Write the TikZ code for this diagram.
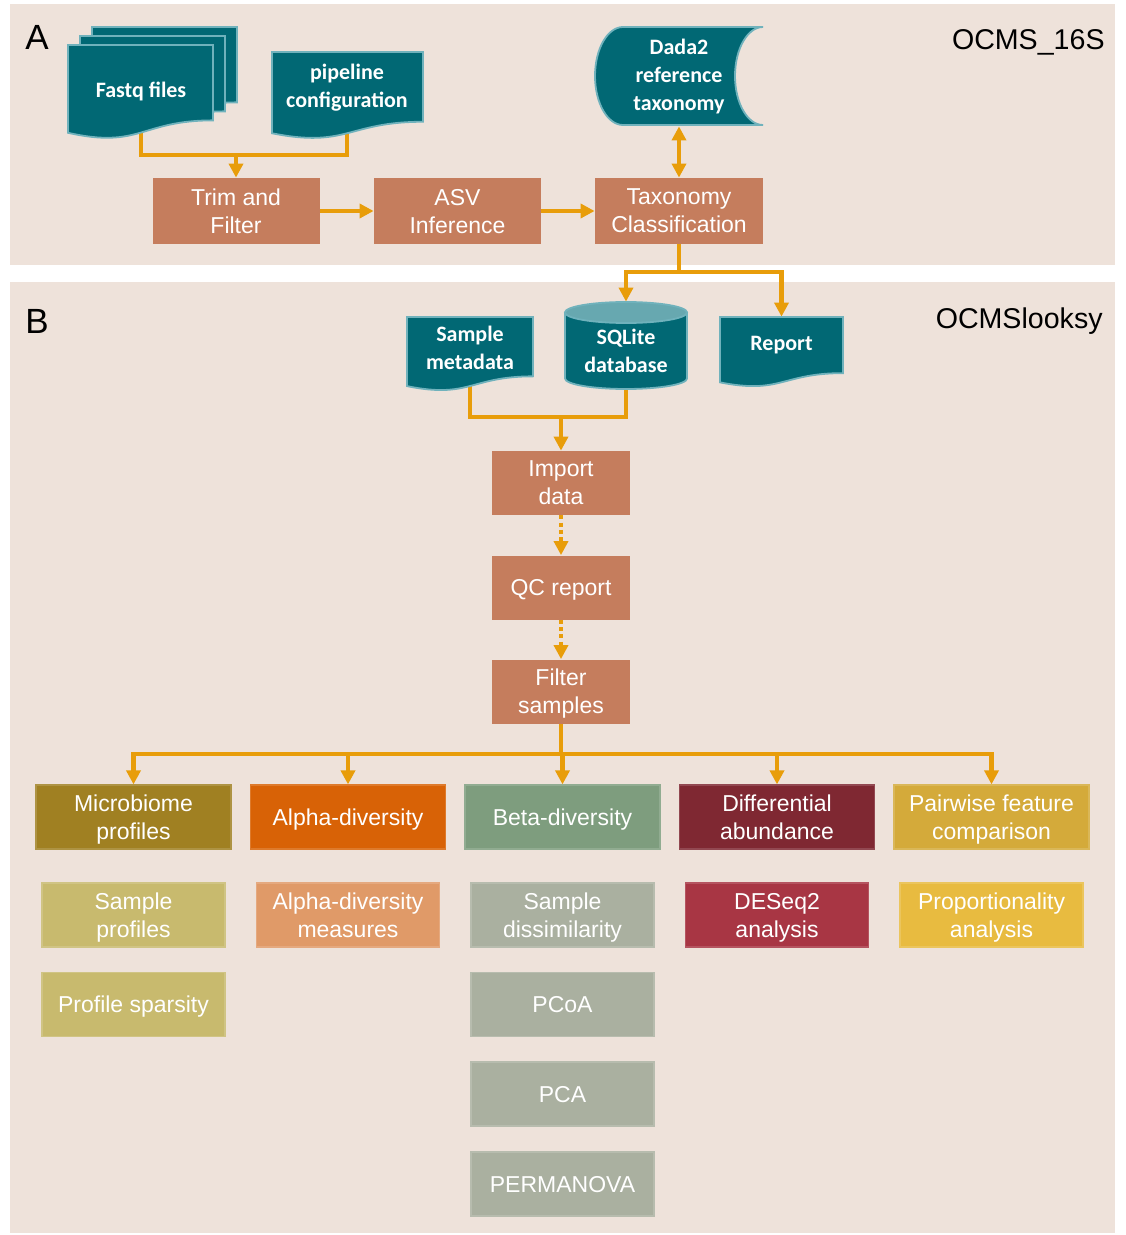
\documentclass[tikz,border=0pt]{standalone}
\usepackage{fontspec}
\setmainfont{Liberation Sans}
\newfontfamily\calfont{Carlito}
\usetikzlibrary{arrows.meta}
\definecolor{panelBg}{RGB}{238,226,218}
\definecolor{tealDark}{RGB}{1,104,116}
\definecolor{tealLine}{RGB}{112,178,188}
\definecolor{tealLight}{RGB}{103,168,176}
\definecolor{procBrown}{RGB}{197,125,93}
\definecolor{wireOrange}{RGB}{232,157,10}
\definecolor{catMicro}{RGB}{160,128,34}
\definecolor{catAlpha}{RGB}{216,98,6}
\definecolor{catBeta}{RGB}{126,157,126}
\definecolor{catDiff}{RGB}{127,40,50}
\definecolor{catPair}{RGB}{212,170,58}
\definecolor{subMicro}{RGB}{200,186,110}
\definecolor{subAlpha}{RGB}{224,154,104}
\definecolor{subBeta}{RGB}{170,176,160}
\definecolor{subDiff}{RGB}{168,54,68}
\definecolor{subPair}{RGB}{232,187,64}

\pgfdeclarelayer{panels}
\pgfdeclarelayer{wires}
\pgfsetlayers{panels,wires,main}

% document sheet with wavy foot: x, y, w, h (px)
\newcommand{\docpath}[4]{%
  \draw[docshape] (#1,#2) -- (#1+#3,#2) -- (#1+#3,#2+0.802*#4)
    .. controls (#1+0.5*#3,#2+0.802*#4) and (#1+0.5*#3,#2+1.107*#4) .. (#1,#2+0.934*#4) -- cycle;}

\begin{document}
\begin{tikzpicture}[x=0.5pt, y=-0.5pt,
    docshape/.style={fill=tealDark, draw=tealLine, line width=0.9pt},
    doctext/.style={text=white, font=\calfont\bfseries\fontsize{11}{14}\selectfont, align=center, inner sep=0pt},
    procbox/.style={rectangle, fill=procBrown, text=white, font=\fontsize{11.5}{14}\selectfont,
      align=center, minimum width=83.5pt, minimum height=33pt, inner sep=0pt, text depth=0pt},
    catbox/.style={rectangle, fill=#1, draw=#1!85!white, line width=0.6pt, text=white,
      font=\fontsize{11.5}{14}\selectfont, align=center, minimum width=97.5pt, minimum height=32pt,
      inner sep=0pt, text depth=0pt},
    subbox/.style={catbox=#1, minimum width=91.5pt},
    wire/.style={draw=wireOrange, line width=2.2pt},
    flow/.style={wire, -{Triangle[width=7pt,length=7pt]}},
    dotflow/.style={flow, dash pattern=on 2pt off 1.6pt},
    panellabel/.style={font=\fontsize{17.5}{20}\selectfont, inner sep=0pt},
    toolname/.style={font=\fontsize{14.3}{17}\selectfont, inner sep=0pt, anchor=east}]

  \useasboundingbox (0,0) rectangle (1125,1235);
  \begin{pgfonlayer}{panels}
    \fill[white] (0,0) rectangle (1125,1235);
    \fill[panelBg] (10,4) rectangle (1115,265);
    \fill[panelBg] (10,282) rectangle (1115,1233);
  \end{pgfonlayer}

  \node[panellabel] (labA) at (37,37) {A};
  \node[panellabel] (labB) at (37,321) {B};
  \node[toolname] (toolA) at (1105,42) {OCMS\_16S};
  \node[toolname] (toolB) at (1103,321) {OCMSlooksy};

  % panel A
  \docpath{92}{27}{145}{94}
  \docpath{80}{36}{145}{94}
  \docpath{68}{45}{145}{94}
  \node[doctext] (fastq) at (141,91) {Fastq files};
  \docpath{272}{52}{151}{87}
  \node[doctext] (pipeconf) at (347,88) {pipeline\\configuration};

  \draw[docshape] (623,27) -- (763,27) arc[start angle=270, end angle=90, x radius=28, y radius=49]
    -- (623,125) arc[start angle=90, end angle=270, x radius=28, y radius=49] -- cycle;
  \node[doctext, minimum width=84pt, minimum height=49pt] (dada) at (679,77) {Dada2\\reference\\taxonomy};

  \node[procbox] (trim) at (236,211) {Trim and\\Filter};
  \node[procbox] (asv) at (457.5,211) {ASV\\Inference};
  \node[procbox, minimum width=84pt] (taxo) at (679,211) {Taxonomy\\Classification};

  % panel B
  \docpath{407}{317}{126}{74}
  \node[doctext] (smeta) at (470,348) {Sample\\metadata};
  \fill[tealDark, draw=tealLine, line width=0.9pt] (565,312.5) -- (565,378.5)
    arc[start angle=180, end angle=0, x radius=61, y radius=10.5] -- (687,312.5) -- cycle;
  \draw[fill=tealLight, draw=tealLine, line width=0.9pt] (626,312.5) ellipse[x radius=61, y radius=10.5];
  \node[doctext, minimum width=61pt, minimum height=49pt] (sqlite) at (626,351) {SQLite\\database};
  \docpath{720}{317}{123}{70}
  \node[doctext, minimum width=61.5pt, minimum height=28pt] (report) at (781.5,345) {Report};

  \node[procbox, minimum width=69pt, minimum height=32pt] (import) at (561,483) {Import\\data};
  \node[procbox, minimum width=69pt, minimum height=32pt] (qc) at (561,587.5) {QC report};
  \node[procbox, minimum width=69pt, minimum height=32pt] (filter) at (561,691.5) {Filter\\samples};

  \node[catbox=catMicro] (micro) at (133.5,817) {Microbiome\\profiles};
  \node[catbox=catAlpha] (alpha) at (348,817) {Alpha-diversity};
  \node[catbox=catBeta] (beta) at (562.5,817) {Beta-diversity};
  \node[catbox=catDiff] (diffab) at (777,817) {Differential\\abundance};
  \node[catbox=catPair] (pairw) at (991.5,817) {Pairwise feature\\comparison};

  \node[subbox=subMicro] (sprof) at (133.5,915) {Sample\\profiles};
  \node[subbox=subMicro] (spars) at (133.5,1004.5) {Profile sparsity};
  \node[subbox=subAlpha] (ameas) at (348,915) {Alpha-diversity\\measures};
  \node[subbox=subBeta] (sdiss) at (562.5,915) {Sample\\dissimilarity};
  \node[subbox=subBeta] (pcoa) at (562.5,1004.5) {PCoA};
  \node[subbox=subBeta] (pca) at (562.5,1094) {PCA};
  \node[subbox=subBeta] (permanova) at (562.5,1184) {PERMANOVA};
  \node[subbox=subDiff] (deseq) at (777,915) {DESeq2\\analysis};
  \node[subbox=subPair] (propo) at (991.5,915) {Proportionality\\analysis};

  \coordinate (joinA) at (236,155);
  \coordinate (splitB) at (679,272);
  \coordinate (joinB) at (561,417);
  \coordinate (splitC) at (561,754);

  \begin{pgfonlayer}{wires}
    \draw[wire] (fastq.center) |- (joinA) -| (pipeconf.center);
    \draw[flow] (joinA) -- (trim.north);
    \draw[flow] (trim) -- (asv);
    \draw[flow] (asv) -- (taxo);
    \draw[wire, {Triangle[width=7pt,length=7pt]}-{Triangle[width=7pt,length=7pt]}] (dada.south) -- (taxo.north);
    \draw[wire] (taxo.south) -- (splitB);
    \draw[flow] (splitB) -| (sqlite.north);
    \draw[flow] (splitB) -| (report.north);
    \draw[wire] (smeta.center) |- (joinB) -| (sqlite.center);
    \draw[flow] (joinB) -- (import.north);
    \draw[dotflow] (import) -- (qc);
    \draw[dotflow] (qc) -- (filter);
    \draw[wire] (filter.south) -- (splitC);
    \foreach \cat in {micro,alpha,beta,diffab,pairw}
      \draw[flow] (splitC) -| (\cat.north);
  \end{pgfonlayer}
\end{tikzpicture}
\end{document}
